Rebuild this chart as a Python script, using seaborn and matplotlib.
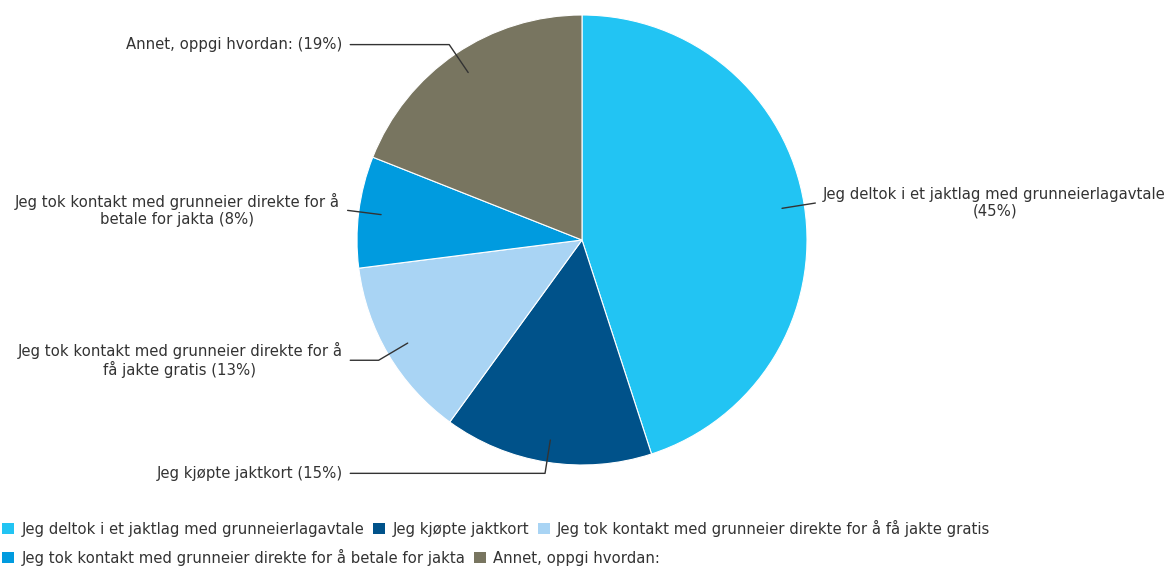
import numpy as np
import matplotlib
matplotlib.use("Agg")
import matplotlib.pyplot as plt
import seaborn as sns
from matplotlib.patches import Patch

categories = [
    "Jeg deltok i et jaktlag med grunneierlagavtale",
    "Jeg kjøpte jaktkort",
    "Jeg tok kontakt med grunneier direkte for å få jakte gratis",
    "Jeg tok kontakt med grunneier direkte for å betale for jakta",
    "Annet, oppgi hvordan:",
]
values = [45, 15, 13, 8, 19]
slice_labels = [
    "Jeg deltok i et jaktlag med grunneierlagavtale\n(45%)",
    "Jeg kjøpte jaktkort (15%)",
    "Jeg tok kontakt med grunneier direkte for å\nfå jakte gratis (13%)",
    "Jeg tok kontakt med grunneier direkte for å\nbetale for jakta (8%)",
    "Annet, oppgi hvordan: (19%)",
]
colors = ["#22C4F3", "#00528A", "#A9D4F4", "#009BDF", "#787560"]

sns.set_theme(style="white")
plt.rcParams["font.family"] = ["DejaVu Sans"]
txt_color = "#333333"
fs = 10.7

W, H = 1166, 567
fig = plt.figure(figsize=(W / 100, H / 100), dpi=100)
cx, cy, R = 582, 240, 225
ax = fig.add_axes([(cx - R) / W, (H - cy - R) / H, 2 * R / W, 2 * R / H])

wedges, _ = ax.pie(values, colors=colors, startangle=90, counterclock=False,
                   radius=1, wedgeprops=dict(linewidth=0.8, edgecolor="white"))
ax.set_xlim(-1, 1)
ax.set_ylim(-1, 1)
ax.axis("off")

for w, lab in zip(wedges, slice_labels):
    ang = np.deg2rad((w.theta1 + w.theta2) / 2)
    dx, dy = np.cos(ang), np.sin(ang)
    p0 = (0.9 * dx, 0.9 * dy)
    p1 = (1.05 * dx, 1.05 * dy)
    side = 1 if dx > 0 else -1
    xend = side * max(abs(p1[0]), 1.03)
    ax.plot([p0[0], p1[0], xend], [p0[1], p1[1], p1[1]], color=txt_color,
            lw=1, clip_on=False)
    ax.text(xend + side * 0.035, p1[1], lab, ha="left" if side > 0 else "right",
            va="center", multialignment="center", fontsize=fs, color=txt_color,
            linespacing=1.15)

row1 = [Patch(facecolor=c, edgecolor="none") for c in colors[:3]]
row2 = [Patch(facecolor=c, edgecolor="none") for c in colors[3:]]
common = dict(frameon=False, fontsize=fs, handlelength=0.8, handleheight=0.8,
              handletextpad=0.5, columnspacing=0.6, borderaxespad=0, borderpad=0,
              labelcolor=txt_color)
leg1 = fig.legend(row1, categories[:3], ncol=3, loc="center left",
                  bbox_to_anchor=(2 / W, 1 - 528 / H), **common)
leg2 = fig.legend(row2, categories[3:], ncol=2, loc="center left",
                  bbox_to_anchor=(2 / W, 1 - 557 / H), **common)

fig.savefig("out.png", dpi=100, facecolor="white")
